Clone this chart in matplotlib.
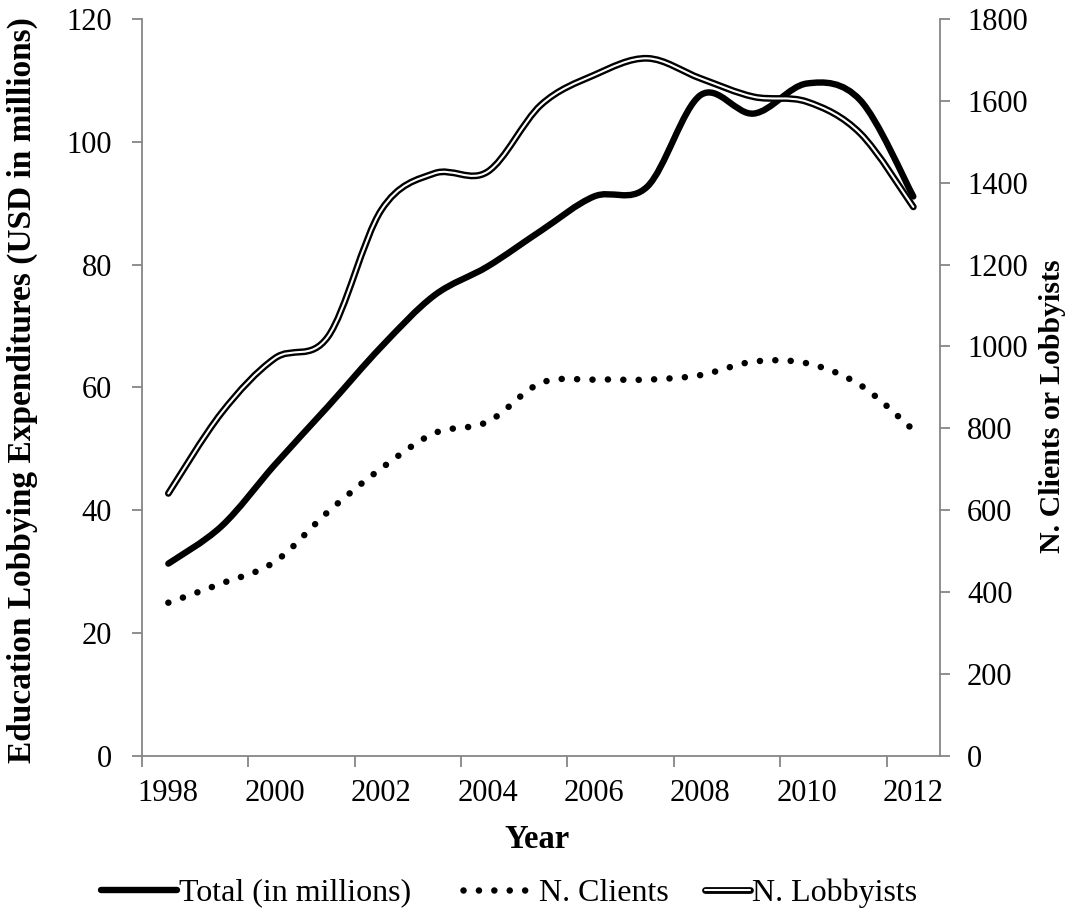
import numpy as np
import matplotlib
matplotlib.use('Agg')
import matplotlib.pyplot as plt
from matplotlib.path import Path
from matplotlib.patches import PathPatch
from matplotlib.lines import Line2D
import matplotlib.patheffects as pe

plt.rcParams['font.family'] = ['Liberation Serif', 'DejaVu Serif']

years = list(range(1998, 2013))
year_labels = ['1998', '2000', '2002', '2004', '2006', '2008', '2010', '2012']
total = [31.3, 37.4, 47.4, 56.9, 66.6, 75.0, 79.7, 85.5, 91.1, 92.7, 107.6, 104.6, 109.5, 106.8, 91.1]
clients = [374, 421, 474, 596, 702, 788, 816, 911, 919, 919, 930, 963, 959, 906, 796]
lobbyists = [641, 838, 971, 1024, 1333, 1423, 1427, 1590, 1663, 1704, 1655, 1610, 1598, 1521, 1341]

FS_TICK = 22
FS_LEG = 23
GRAY = '#868686'


def smooth_path(xs, ys):
    """Excel-like smoothed line: cubic Bezier segments through the data points."""
    p = np.column_stack([xs, ys]).astype(float)
    n = len(p)
    verts = [p[0]]
    codes = [Path.MOVETO]
    for i in range(n - 1):
        p0 = p[i - 1] if i > 0 else p[i]
        p1 = p[i]
        p2 = p[i + 1]
        p3 = p[i + 2] if i + 2 < n else p[i + 1]
        c1 = p1 + (p2 - p0) / 6.0
        c2 = p2 - (p3 - p1) / 6.0
        verts += [c1, c2, p2]
        codes += [Path.CURVE4] * 3
    return Path(verts, codes)


fig = plt.figure(figsize=(10.73, 9.15), dpi=100)
ax = fig.add_axes([0.1321, 0.174, 0.876 - 0.1321, 0.9792 - 0.174])
ax2 = ax.twinx()

x = np.arange(len(years))

double_fx = [pe.Stroke(linewidth=4.9, foreground='black'), pe.Normal()]

# Total (left axis)
ax.add_patch(PathPatch(smooth_path(x, total), fill=False, lw=4.6, color='black',
                       capstyle='round', joinstyle='round', zorder=3))
# Clients (right axis) dotted
ax2.add_patch(PathPatch(smooth_path(x, clients), fill=False, lw=4.7, color='black',
                        linestyle=(0, (0.01, 2.35)), capstyle='round', zorder=3))
# Lobbyists (right axis) double line
ax2.add_patch(PathPatch(smooth_path(x, lobbyists), fill=False, lw=1.5, color='white',
                        capstyle='round', joinstyle='round', zorder=4,
                        path_effects=double_fx))

ax.set_xlim(-0.5, len(years) - 0.5)
ax.set_ylim(0, 120)
ax2.set_ylim(0, 1800)
ax.set_yticks(np.arange(0, 121, 20))
ax2.set_yticks(np.arange(0, 1801, 200))

# x ticks: marks at category boundaries, labels at category centres
ax.set_xticks(np.arange(-0.5, len(years) - 1, 2))
ax.set_xticklabels([])
ax.set_xticks(np.arange(0, len(years), 2), minor=True)
ax.set_xticklabels(year_labels, minor=True)
ax.tick_params(axis='x', which='major', length=8, width=1.3, color=GRAY, direction='out')
ax.tick_params(axis='x', which='minor', length=0, pad=17, labelsize=FS_TICK)
ax.tick_params(axis='y', length=7, width=1.3, color=GRAY, direction='out', pad=14.5,
               labelsize=FS_TICK)
ax2.tick_params(axis='y', length=7, width=1.3, color=GRAY, direction='out', pad=12.5,
                labelsize=FS_TICK)

for a in (ax, ax2):
    a.spines['top'].set_visible(False)
    for s in ('left', 'right', 'bottom'):
        a.spines[s].set_color(GRAY)
        a.spines[s].set_linewidth(1.3)
ax.spines['right'].set_visible(False)
ax2.spines['left'].set_visible(False)
ax2.spines['bottom'].set_visible(False)

fig.text(22 / 1073, 1 - 390 / 915, 'Education Lobbying Expenditures (USD in millions)',
         rotation=90, ha='center', va='center', fontsize=24, fontweight='bold')
fig.text(1053 / 1073, 1 - 406 / 915, 'N. Clients or Lobbyists',
         rotation=90, ha='center', va='center', fontsize=21.5, fontweight='bold')
fig.text(537 / 1073, 1 - 839 / 915, 'Year', ha='center', va='center',
         fontsize=23.5, fontweight='bold')

# legends
em = FS_LEG * 100 / 72
h_total = Line2D([], [], color='black', lw=4.6, solid_capstyle='round')
h_clients = Line2D([], [], color='black', lw=4.7, linestyle=(0, (0.01, 2.35)),
                   dash_capstyle='round')
h_lob = Line2D([], [], color='white', lw=1.5, solid_capstyle='round',
               path_effects=double_fx)

common = dict(frameon=False, fontsize=FS_LEG, borderpad=0, borderaxespad=0,
              handletextpad=0.05, loc='center left')
fig.legend([h_total], ['Total (in millions)'], handlelength=76 / em,
           bbox_to_anchor=(101 / 1073, 1 - 893 / 915), **common)
fig.legend([h_clients], ['N. Clients'], handlelength=74 / em,
           bbox_to_anchor=(463 / 1073, 1 - 893 / 915), **common)
fig.legend([h_lob], ['N. Lobbyists'], handlelength=45 / em,
           bbox_to_anchor=(705 / 1073, 1 - 893 / 915), **common)

fig.savefig('out.png', dpi=100, facecolor='white')
